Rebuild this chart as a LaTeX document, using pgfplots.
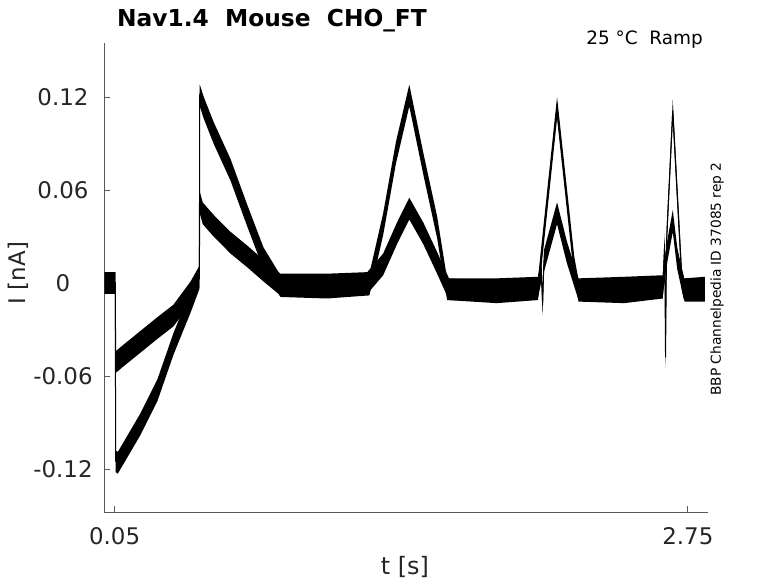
\documentclass[border=0pt]{standalone}
\usepackage{pgfplots}
\pgfplotsset{compat=1.18}
\usepgfplotslibrary{fillbetween}
\usepackage{pgfplotstable}
\usepackage{fontspec}
\setmainfont{DejaVu Sans}

\pgfplotstableread{
t I
0.003 0.000
0.053 0.000
0.055 -0.115
0.065 -0.116
0.172 -0.091
0.252 -0.069
0.328 -0.039
0.408 -0.012
0.449 0.003
0.451 0.121
0.470 0.113
0.516 0.097
0.596 0.073
0.676 0.043
0.751 0.016
0.831 -0.002
1.050 -0.003
1.250 -0.001
1.315 0.038
1.375 0.084
1.438 0.121
1.504 0.077
1.569 0.036
1.616 -0.004
1.850 -0.006
2.044 -0.004
2.134 0.113
2.215 0.010
2.235 -0.005
2.450 -0.006
2.632 -0.003
2.641 0.025
2.645 -0.048
2.650 0.028
2.679 0.111
2.722 0.002
2.735 -0.005
2.830 -0.005
}\largetrace

\pgfplotstableread{
t I
0.003 0.000
0.053 0.000
0.055 -0.051
0.090 -0.047
0.252 -0.029
0.327 -0.021
0.408 -0.006
0.449 0.004
0.451 0.052
0.465 0.045
0.516 0.037
0.596 0.026
0.676 0.017
0.751 0.008
0.831 -0.001
1.050 -0.001
1.240 0.000
1.315 0.012
1.380 0.032
1.438 0.048
1.504 0.032
1.569 0.013
1.625 -0.004
1.850 -0.004
2.044 -0.003
2.060 0.008
2.066 -0.014
2.072 0.014
2.134 0.045
2.180 0.020
2.235 -0.004
2.450 -0.003
2.632 -0.002
2.650 0.018
2.679 0.040
2.700 0.016
2.732 -0.004
2.830 -0.003
}\smalltrace

\begin{document}
\begin{tikzpicture}
\begin{axis}[
  at={(0bp,0bp)}, anchor=south west,
  scale only axis, width=604bp, height=469bp,
  xmin=0, xmax=2.845, ymin=-0.14774, ymax=0.15484,
  axis x line*=bottom, axis y line*=left,
  axis line style={black!65, line width=0.7bp, -},
  xtick={0.05,2.75}, xticklabels={0.05,2.75},
  ytick={-0.12,-0.06,0,0.06,0.12},
  yticklabels={-0.12,-0.06,0,0.06,0.12},
  tick style={black!65, line width=0.7bp},
  tick align=inside, major tick length=6bp,
  ticklabel style={font=\fontsize{23}{23}\selectfont, text=black!85},
  yticklabel style={anchor=center, xshift=-41bp},
  xticklabel style={anchor=center, yshift=-24bp},
]
\addplot[name path=Lu, draw=none] table[x=t, y expr=\thisrow{I}+0.007] {\largetrace};
\addplot[name path=Ll, draw=none] table[x=t, y expr=\thisrow{I}-0.007] {\largetrace};
\addplot[black] fill between[of=Lu and Ll];
\addplot[name path=Su, draw=none] table[x=t, y expr=\thisrow{I}+0.007] {\smalltrace};
\addplot[name path=Sl, draw=none] table[x=t, y expr=\thisrow{I}-0.007] {\smalltrace};
\addplot[black] fill between[of=Su and Sl];
\addplot[black, line width=1bp] table[x=t, y=I] {\largetrace};
\addplot[black, line width=1bp] table[x=t, y=I] {\smalltrace};
\end{axis}
\node[anchor=base west, inner sep=0pt, font=\bfseries\fontsize{23.4}{24}\selectfont] at (13bp,485bp) {Nav1.4~~Mouse~~CHO\_FT};
\node[anchor=base east, inner sep=0pt, font=\fontsize{18.5}{19}\selectfont] at (599bp,467bp) {25 °C~~Ramp};
\node[rotate=90, inner sep=0pt, font=\fontsize{13.8}{14}\selectfont] at (613bp,233bp) {BBP Channelpedia ID 37085 rep 2};
\node[rotate=90, inner sep=0pt, font=\fontsize{23}{23}\selectfont, text=black!85] at (-86bp,239bp) {I [nA]};
\node[inner sep=0pt, font=\fontsize{24}{24}\selectfont, text=black!85] at (301bp,-55bp) {t [s]};
\pgfresetboundingbox
\useasboundingbox (-104bp,-71bp) rectangle (674bp,512bp);
\end{tikzpicture}
\end{document}
